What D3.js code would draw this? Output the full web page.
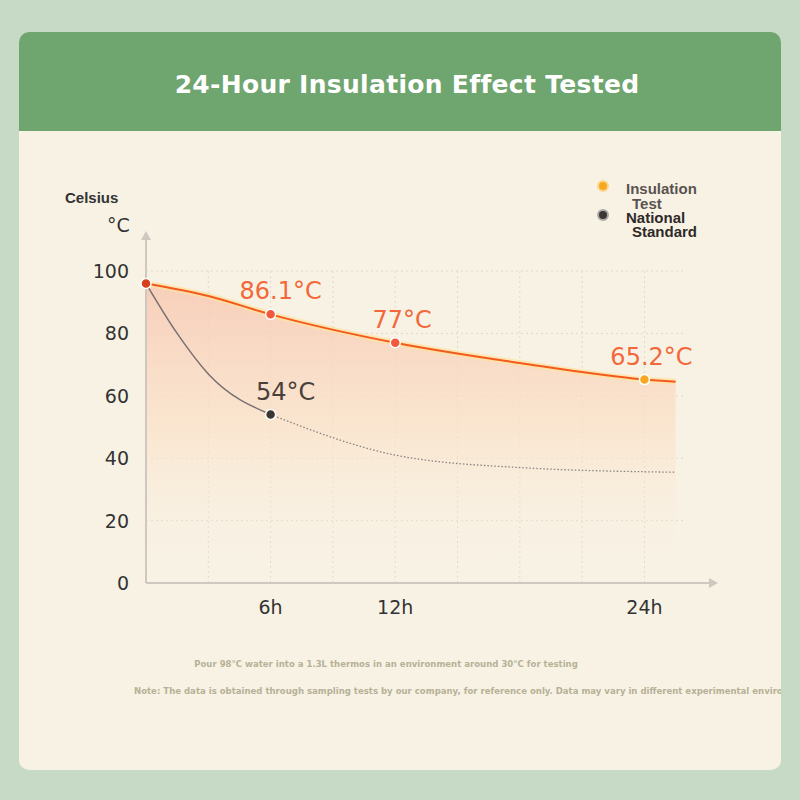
<!DOCTYPE html>
<html><head><meta charset="utf-8">
<script src="https://cdn.jsdelivr.net/npm/d3@7"></script>
<style>body{margin:0;background:#c6dac6}</style></head>
<body><div id="chart"></div>
<script>
// chart data
var hours = [0, 3, 6, 12, 18, 24, 25.5];
var insulation = [96, 92, 86.1, 77, 70.5, 65.2, 64.5];
var nationalHours = [0, 1.5, 3, 6, 12, 18, 25.5];
var national = [96, 80, 67, 54, 41, 37, 35.5];
var yTicks = [0, 20, 40, 60, 80, 100];
var xTicks = [6, 12, 24];
var callouts = [{h: 6, v: 86.1, s: "86.1°C"}, {h: 12, v: 77, s: "77°C"}, {h: 24, v: 65.2, s: "65.2°C"}];

var svg = d3.select("#chart").append("svg").attr("width", 800).attr("height", 800);
svg.append("rect").attr("width", 800).attr("height", 800).attr("fill", "#c6dac6");
svg.append("rect").attr("x", 19).attr("y", 32).attr("width", 762).attr("height", 738).attr("rx", 10).attr("fill", "#f8f2e5");
svg.append("path").attr("d", "M19,131 V42 a10,10 0 0 1 10,-10 H771 a10,10 0 0 1 10,10 V131 Z").attr("fill", "#6fa56f");
svg.append("text").attr("x", 407).attr("y", 93).attr("text-anchor", "middle").attr("fill", "#fff")
  .attr("font-family", "DejaVu Sans").attr("font-weight", "bold").attr("font-size", 25).attr("letter-spacing", 0.3)
  .text("24-Hour Insulation Effect Tested");

var x = d3.scaleLinear().domain([0, 26]).range([146, 686]);
var y = d3.scaleLinear().domain([0, 100]).range([583, 271]);

var defs = svg.append("defs");
var grad = defs.append("linearGradient").attr("id", "fillg").attr("x1", 0).attr("y1", 0).attr("x2", 0).attr("y2", 1);
grad.append("stop").attr("offset", "0%").attr("stop-color", "#f7c6b0").attr("stop-opacity", 0.8);
grad.append("stop").attr("offset", "50%").attr("stop-color", "#fbe2c8").attr("stop-opacity", 0.7);
grad.append("stop").attr("offset", "100%").attr("stop-color", "#f8f2e5").attr("stop-opacity", 0);

// grid
var g = svg.append("g");
d3.range(3, 25, 3).forEach(function(h) {
  g.append("line").attr("x1", x(h)).attr("x2", x(h)).attr("y1", y(100)).attr("y2", y(0))
    .attr("stroke", "#e2d8ca").attr("stroke-dasharray", "2,3");
});
yTicks.slice(1).forEach(function(v) {
  g.append("line").attr("x1", x(0)).attr("x2", x(26)).attr("y1", y(v)).attr("y2", y(v))
    .attr("stroke", "#e2d8ca").attr("stroke-dasharray", "2,3");
});

var pts = hours.map(function(h, i) { return [h, insulation[i]]; });
var npts = nationalHours.map(function(h, i) { return [h, national[i]]; });

svg.append("path").datum(pts).attr("fill", "url(#fillg)")
  .attr("d", d3.area().x(d => x(d[0])).y0(y(0)).y1(d => y(d[1])).curve(d3.curveMonotoneX));

// axes
svg.append("line").attr("x1", x(0)).attr("x2", 712).attr("y1", y(0)).attr("y2", y(0)).attr("stroke", "#cfc8c0").attr("stroke-width", 2);
svg.append("line").attr("x1", x(0)).attr("x2", x(0)).attr("y1", y(0)).attr("y2", 238).attr("stroke", "#cfc8c0").attr("stroke-width", 2);
svg.append("path").attr("d", "M718,583 l-9,-5 v10 Z").attr("fill", "#cfc8c0");
svg.append("path").attr("d", "M146,231 l-5,9 h10 Z").attr("fill", "#cfc8c0");

svg.selectAll(".yt").data(yTicks).enter().append("text").attr("x", 129).attr("y", d => y(d) + 7)
  .attr("text-anchor", "end").attr("font-family", "DejaVu Sans").attr("font-size", 19).attr("fill", "#333").text(d => d);
svg.selectAll(".xt").data(xTicks).enter().append("text").attr("x", d => x(d)).attr("y", 614)
  .attr("text-anchor", "middle").attr("font-family", "DejaVu Sans").attr("font-size", 19).attr("fill", "#333").text(d => d + "h");
svg.append("text").attr("x", 65).attr("y", 203).attr("font-family", "Liberation Sans").attr("font-weight", "bold").attr("font-size", 15).attr("fill", "#333").text("Celsius");
svg.append("text").attr("x", 107).attr("y", 232).attr("font-family", "DejaVu Sans").attr("font-size", 19).attr("fill", "#333").text("°C");

// lines
var curve = d3.line().x(d => x(d[0])).y(d => y(d[1])).curve(d3.curveMonotoneX);
svg.append("path").attr("fill", "none").attr("stroke", "#7a7070").attr("stroke-width", 1.5).attr("d", curve(npts.slice(0, 4)));
svg.append("path").attr("fill", "none").attr("stroke", "#8a8282").attr("stroke-width", 1.3).attr("stroke-dasharray", "1.5,2").attr("d", curve(npts.slice(3)));
svg.append("path").datum(pts).attr("fill", "none").attr("stroke", "#fde3a0").attr("stroke-width", 6).attr("stroke-opacity", 0.7).attr("d", curve);
svg.append("path").datum(pts).attr("fill", "none").attr("stroke", "#f35a1c").attr("stroke-width", 2).attr("d", curve);

// points
svg.append("circle").attr("cx", x(0)).attr("cy", y(96)).attr("r", 5).attr("fill", "#d8401c").attr("stroke", "#fff").attr("stroke-width", 1.5);
svg.append("circle").attr("cx", x(6)).attr("cy", y(54)).attr("r", 5).attr("fill", "#3d3733").attr("stroke", "#fff").attr("stroke-width", 1.5);
svg.append("text").attr("x", x(6) + 15).attr("y", y(54) - 15).attr("text-anchor", "middle").attr("font-family", "DejaVu Sans").attr("font-size", 24).attr("fill", "#4a403a").text("54°C");
callouts.forEach(function(c, i) {
  svg.append("circle").attr("cx", x(c.h)).attr("cy", y(c.v)).attr("r", 5)
    .attr("fill", i == 2 ? "#f7a820" : "#f25a3c").attr("stroke", "#fff").attr("stroke-width", 1.5);
  svg.append("text").attr("x", x(c.h) + (i == 0 ? 10 : 7)).attr("y", y(c.v) - 15).attr("text-anchor", "middle")
    .attr("font-family", "DejaVu Sans").attr("font-size", 24).attr("fill", "#f2683a").text(c.s);
});

// legend
svg.append("circle").attr("cx", 603).attr("cy", 186).attr("r", 5).attr("fill", "#f7a820").attr("stroke", "#fbd890").attr("stroke-width", 2);
svg.append("circle").attr("cx", 603).attr("cy", 215).attr("r", 5).attr("fill", "#3d3733").attr("stroke", "#aaa").attr("stroke-width", 2);
var lf = {"font-family": "Liberation Sans", "font-weight": "bold", "font-size": 15};
function ltext(xx, yy, s, c) {
  var t = svg.append("text").attr("x", xx).attr("y", yy).attr("fill", c).text(s);
  for (var k in lf) t.attr(k, lf[k]);
}
ltext(626, 194, "Insulation", "#5a5350");
ltext(632, 209, "Test", "#5a5350");
ltext(626, 223, "National", "#2e2a28");
ltext(632, 237, "Standard", "#2e2a28");

// notes
svg.append("text").attr("x", 386).attr("y", 667).attr("text-anchor", "middle").attr("font-family", "DejaVu Sans Condensed").attr("font-weight", "bold")
  .attr("font-size", 9.5).attr("fill", "#b6b196").text("Pour 98°C water into a 1.3L thermos in an environment around 30°C for testing");
svg.append("text").attr("x", 134).attr("y", 694).attr("font-family", "DejaVu Sans Condensed").attr("font-weight", "bold")
  .attr("font-size", 9.5).attr("fill", "#b6b196").text("Note: The data is obtained through sampling tests by our company, for reference only. Data may vary in different experimental environments.");
svg.append("rect").attr("x", 781).attr("y", 680).attr("width", 19).attr("height", 30).attr("fill", "#c6dac6");
</script></body></html>
